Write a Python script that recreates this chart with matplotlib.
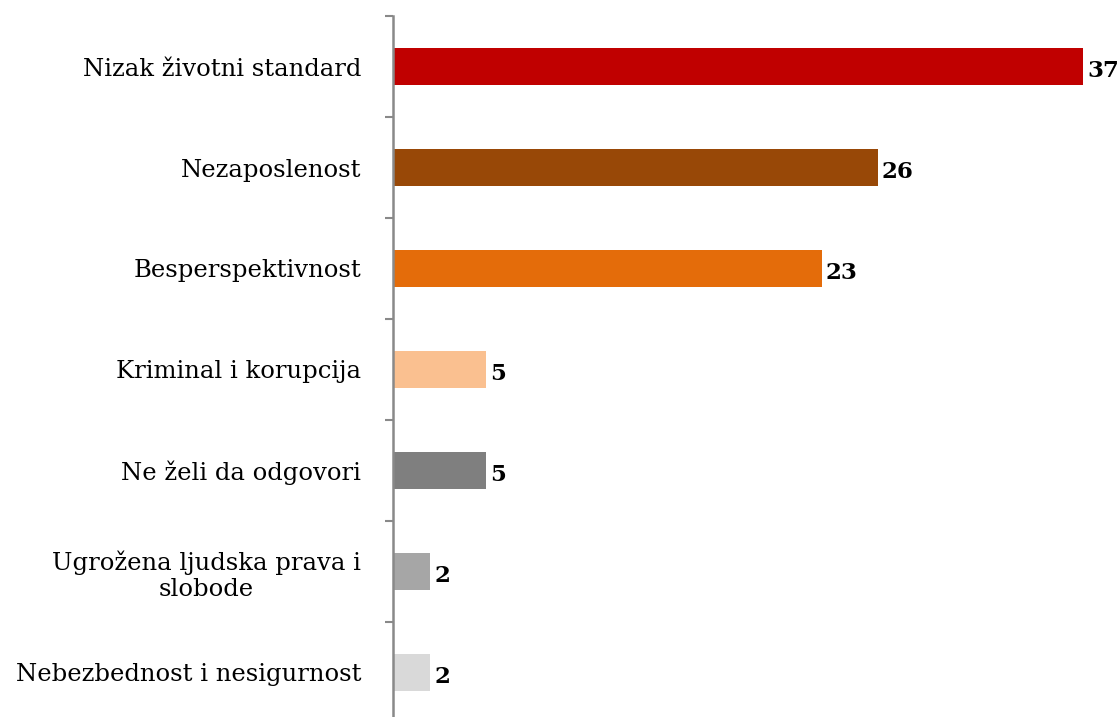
import numpy as np
import matplotlib
matplotlib.use("Agg")
import matplotlib.pyplot as plt

categories = ["Nizak životni standard", "Nezaposlenost", "Besperspektivnost",
              "Kriminal i korupcija", "Ne želi da odgovori",
              "Ugrožena ljudska prava i\nslobode", "Nebezbednost i nesigurnost"]
values = [37, 26, 23, 5, 5, 2, 2]
colors = ["#C00000", "#984807", "#E46C0A", "#FAC090", "#7F7F7F", "#A6A6A6", "#D9D9D9"]

plt.rcParams['font.family'] = ['DejaVu Serif']

fig = plt.figure(figsize=(11.2, 7.17), dpi=100)
W, H = 1120, 717
top, bottom = 16, 723
ax = fig.add_axes([393 / W, 1 - bottom / H, 727 / W, (bottom - top) / H])

y = np.arange(len(categories))
ax.barh(y, values, height=0.375, color=colors)
ax.set_ylim(len(categories) - 0.5, -0.5)
ax.set_xlim(0, 39)

ax.set_yticks(y)
ax.set_yticklabels(categories, fontsize=17.5, multialignment="center", linespacing=1.2)
ax.set_yticks(np.arange(-0.5, len(categories), 1), minor=True)
ax.tick_params(axis="y", which="major", length=0, pad=23)
ax.tick_params(axis="y", which="minor", length=6, width=1.5, color="#898989", direction="out")
ax.set_xticks([])

for s in ["top", "right", "bottom"]:
    ax.spines[s].set_visible(False)
ax.spines["left"].set_color("#898989")
ax.spines["left"].set_linewidth(1.8)

for yi, v in zip(y, values):
    ax.annotate(str(v), (v, yi), xytext=(3, -3), textcoords="offset points",
                ha="left", va="center", fontsize=16.5, fontweight="bold")

fig.savefig("out.png", dpi=100)
